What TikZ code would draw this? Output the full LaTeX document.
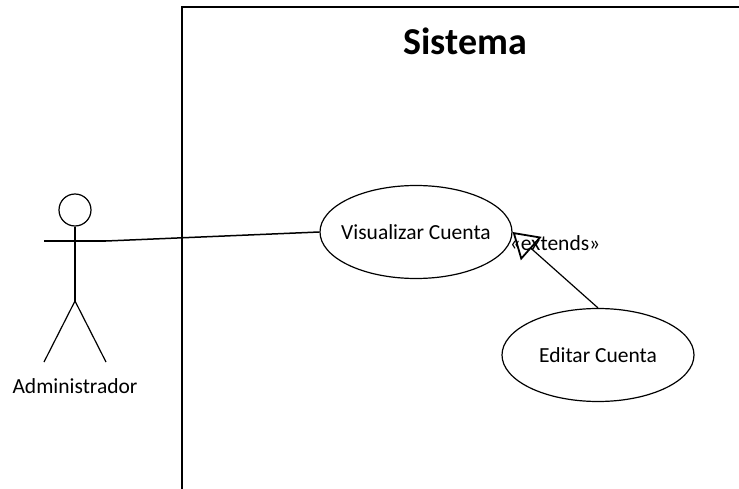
\documentclass[tikz,border=0pt]{standalone}
\usepackage{fontspec}
\setmainfont{Carlito}
\usepackage{xcolor}
\usetikzlibrary{positioning, arrows.meta, shapes.geometric}

\tikzset{
  usecase/.style={draw=black, ellipse, line width=1.2pt, minimum width=192pt, minimum height=93pt, inner xsep=-12pt, inner ysep=0pt, font=\fontsize{21.5}{26}\selectfont},
  plainlabel/.style={inner sep=0pt, font=\fontsize{21.5}{26}\selectfont},
  umlline/.style={line width=1.2pt, black}
}

\begin{document}
\begin{tikzpicture}[x=1pt, y=-1pt]
  \useasboundingbox (0,0) rectangle (739,489);
  % system frame
  \draw[line width=1.6pt, black] (739,7) -- (182,7) -- (182,489);
  \node[inner sep=0pt, font=\bfseries\fontsize{38}{46}\selectfont] (sistema) at (465,41) {Sistema};

  % actor
  \node[draw=black, circle, line width=1.2pt, minimum size=32pt, inner sep=0pt] (head) at (75,210) {};
  \coordinate (hip) at (75,301);
  \coordinate (armL) at (44,241);
  \coordinate (armR) at (106,241);
  \coordinate (legL) at (44,362);
  \coordinate (legR) at (106,362);
  \draw[umlline] (head.south) -- (hip);
  \draw[umlline] (armL) -- (armR);
  \draw[umlline] (hip) -- (legL);
  \draw[umlline] (hip) -- (legR);
  \node[plainlabel] (admin) at (75,386) {Administrador};

  % use cases
  \node[usecase] (visualizar) at (416,232) {Visualizar Cuenta};
  \node[usecase] (editar) at (598,355) {Editar Cuenta};

  \draw[line width=1.5pt, black] (armR) -- (visualizar.west);
  \draw[umlline, -{Triangle[open, length=25pt, width=31pt, line width=1.8pt]}] (editar.north) -- (visualizar.east);
  \node[plainlabel] (extends) at (555,243) {«extends»};
\end{tikzpicture}
\end{document}
